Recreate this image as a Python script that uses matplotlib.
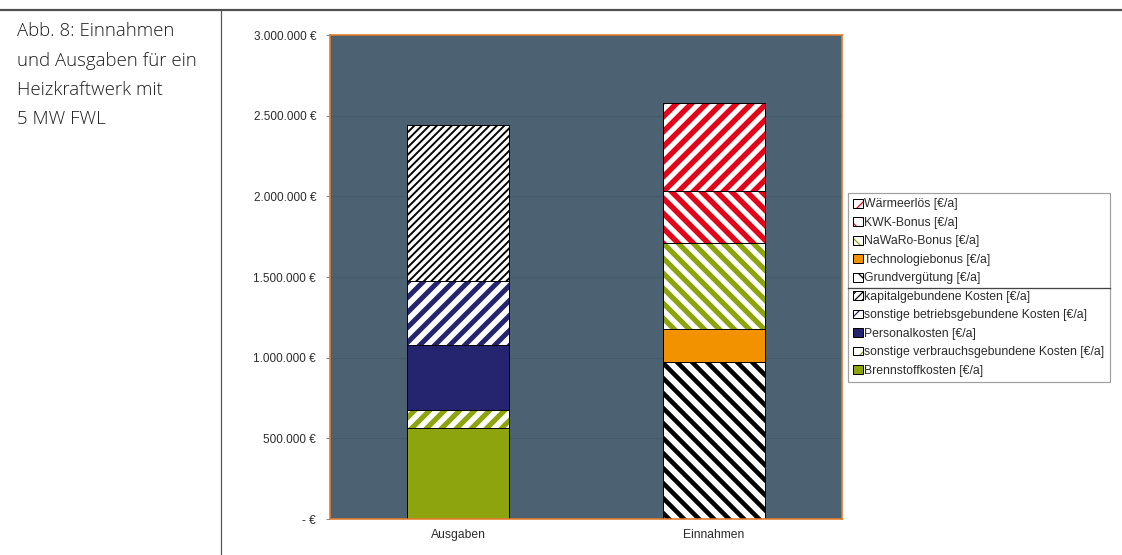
import matplotlib
matplotlib.use("Agg")
import matplotlib.pyplot as plt
from matplotlib.patches import Patch
from matplotlib.lines import Line2D
from matplotlib.legend_handler import HandlerTuple
from matplotlib.ticker import FuncFormatter, FixedLocator

DPI = 90
W, H = 1122, 555


def pt(px):
    """Convert a size in pixels to points for this figure's dpi."""
    return px * 72.0 / DPI


# ---- data -------------------------------------------------------------
categories = ["Ausgaben", "Einnahmen"]

ausgaben_labels = [
    "Brennstoffkosten [€/a]",
    "sonstige verbrauchsgebundene Kosten [€/a]",
    "Personalkosten [€/a]",
    "sonstige betriebsgebundene Kosten [€/a]",
    "kapitalgebundene Kosten [€/a]",
]
ausgaben_values = [566000, 111000, 403000, 393000, 968000]

einnahmen_labels = [
    "Grundvergütung [€/a]",
    "Technologiebonus [€/a]",
    "NaWaRo-Bonus [€/a]",
    "KWK-Bonus [€/a]",
    "Wärmeerlös [€/a]",
]
einnahmen_values = [973000, 207000, 531000, 321000, 544000]

y_ticks = [0, 500000, 1000000, 1500000, 2000000, 2500000, 3000000]

caption_lines = ["Abb. 8: Einnahmen", "und Ausgaben für ein", "Heizkraftwerk mit", "5 MW FWL"]

# ---- styles -----------------------------------------------------------
GREEN = "#8DA40E"
NAVY = "#25246E"
ORANGE = "#F39200"
RED = "#E3061B"
BLACK = "#000000"
WHITE = "#FFFFFF"

# label -> (face colour, hatch, hatch colour, hatch line width in px)
styles = {
    "Brennstoffkosten [€/a]": (GREEN, None, GREEN, 0),
    "sonstige verbrauchsgebundene Kosten [€/a]": (WHITE, "//", GREEN, 5.2),
    "Personalkosten [€/a]": (NAVY, None, NAVY, 0),
    "sonstige betriebsgebundene Kosten [€/a]": (WHITE, "//", NAVY, 5.0),
    "kapitalgebundene Kosten [€/a]": (WHITE, "////", BLACK, 1.9),
    "Grundvergütung [€/a]": (WHITE, "\\\\", BLACK, 4.6),
    "Technologiebonus [€/a]": (ORANGE, None, ORANGE, 0),
    "NaWaRo-Bonus [€/a]": (WHITE, "\\\\", GREEN, 5.3),
    "KWK-Bonus [€/a]": (WHITE, "\\\\", RED, 5.5),
    "Wärmeerlös [€/a]": (WHITE, "//", RED, 5.5),
}

PLOT_BG = "#4C6272"
GRID = "#45596A"
SPINE = "#E27A2C"
TEXT = "#2b2b2b"

plt.rcParams["font.family"] = ["Liberation Sans", "DejaVu Sans"]

fig = plt.figure(figsize=(W / DPI, H / DPI), dpi=DPI)
fig.patch.set_facecolor("white")

# plot area in pixel coordinates of the figure
left, right, top, bottom = 330, 842, 35, 519
ax = fig.add_axes([left / W, 1 - bottom / H, (right - left) / W, (bottom - top) / H])
ax.set_facecolor(PLOT_BG)

BAR_W = 0.4
legend_handles = {}


def draw_segment(x, base, value, label):
    face, hatch, hcol, hlw = styles[label]
    if hatch:
        with plt.rc_context({"hatch.linewidth": pt(hlw)}):
            fill = ax.bar(x, value, BAR_W, bottom=base, color=face,
                          edgecolor=hcol, hatch=hatch, linewidth=0, zorder=2)
            for p in fill:
                if hasattr(p, "set_hatch_linewidth"):
                    p.set_hatch_linewidth(pt(hlw))
    else:
        ax.bar(x, value, BAR_W, bottom=base, color=face, linewidth=0, zorder=2)
    ax.bar(x, value, BAR_W, bottom=base, fill=False, edgecolor=BLACK,
           linewidth=pt(1.0), zorder=3)

    swatch_lw = pt(hlw * 0.7 if hlw else 1)
    with plt.rc_context({"hatch.linewidth": swatch_lw}):
        sw = Patch(facecolor=face, edgecolor=hcol, hatch=hatch, linewidth=0)
        if hasattr(sw, "set_hatch_linewidth"):
            sw.set_hatch_linewidth(swatch_lw)
    outline = Patch(facecolor="none", edgecolor=BLACK, linewidth=pt(1.0))
    legend_handles[label] = (sw, outline)


for x, labels, values in [(0, ausgaben_labels, ausgaben_values),
                          (1, einnahmen_labels, einnahmen_values)]:
    base = 0
    for lab, val in zip(labels, values):
        draw_segment(x, base, val, lab)
        base += val

ax.set_xlim(-0.5, 1.5)
ax.set_ylim(0, 3000000)

ax.yaxis.set_major_locator(FixedLocator(y_ticks))


def euro(v, _pos):
    if v == 0:
        return "- €"
    return f"{int(round(v)):,}".replace(",", ".") + " €"


ax.yaxis.set_major_formatter(FuncFormatter(euro))
ax.grid(axis="y", color=GRID, linewidth=pt(1.2), zorder=0)
ax.set_axisbelow(True)

ax.set_xticks([0, 1])
ax.set_xticklabels(categories)
ax.tick_params(axis="x", length=0, pad=pt(10), labelsize=pt(12.1), labelcolor=TEXT)
ax.tick_params(axis="y", direction="out", length=pt(4), width=pt(1), color="#8a8a8a",
               pad=pt(10), labelsize=pt(11.8), labelcolor=TEXT)

for s in ax.spines.values():
    s.set_color(SPINE)
    s.set_linewidth(pt(1.6))
    s.set_zorder(4)

# legend: revenues on top, costs below, split by a rule
order = list(reversed(einnahmen_labels)) + list(reversed(ausgaben_labels))
leg = fig.legend(
    [legend_handles[k] for k in order], order,
    handler_map={tuple: HandlerTuple(ndivide=1)},
    loc="upper left", bbox_to_anchor=(848 / W, 1 - 193 / H),
    borderaxespad=0, frameon=True, fancybox=False, shadow=False,
    edgecolor="#a0a0a0", framealpha=1, fontsize=pt(12.2),
    handlelength=0.74, handleheight=0.74, handletextpad=0.15,
    labelspacing=0.53, borderpad=0.45,
)
leg.get_frame().set_linewidth(pt(1.2))
for t in leg.get_texts():
    t.set_color(TEXT)

# page frame: top rule and column divider
fig.add_artist(Line2D([0, 1], [1 - 9.5 / H, 1 - 9.5 / H], transform=fig.transFigure,
                      color="#505050", linewidth=pt(2.2)))
fig.add_artist(Line2D([221 / W, 221 / W], [0, 1 - 9.5 / H], transform=fig.transFigure,
                      color="#555555", linewidth=pt(1.2)))

# caption in the left column
for i, line in enumerate(caption_lines):
    fig.text(17 / W, 1 - (36 + i * 29.5) / H, line, ha="left", va="baseline",
             fontsize=pt(18.6), color="#1e1e1e",
             family=["Open Sans", "DejaVu Sans"], fontweight="light")

# separator rule between the revenue and the cost entries of the legend
fig.canvas.draw()
renderer = fig.canvas.get_renderer()
texts = leg.get_texts()
upper = texts[len(einnahmen_labels) - 1].get_window_extent(renderer)
lower = texts[len(einnahmen_labels)].get_window_extent(renderer)
frame = leg.get_frame().get_window_extent(renderer)
y_sep = (upper.y0 + lower.y1) / 2 / fig.bbox.height
fig.add_artist(Line2D([frame.x0 / fig.bbox.width, frame.x1 / fig.bbox.width], [y_sep, y_sep],
                      transform=fig.transFigure, color="#444444", linewidth=pt(1.3),
                      zorder=10))

fig.savefig("out.png", dpi=DPI, facecolor="white")
